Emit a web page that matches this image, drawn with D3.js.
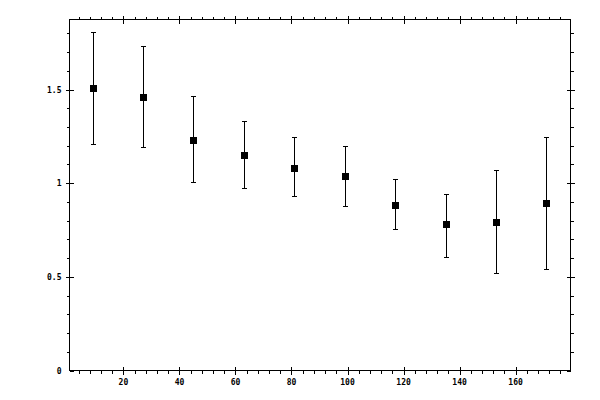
<!DOCTYPE html>
<html>
<head>
<meta charset="utf-8">
<script src="https://cdn.jsdelivr.net/npm/d3@7"></script>
<style>
  body { margin: 0; background: #fff; }
  svg text { font-family: "DejaVu Sans Mono", monospace; font-size: 8px; font-weight: bold; fill: #000; }
</style>
</head>
<body>
<svg id="chart" width="600" height="400"></svg>
<script>
// data
var xs = [9, 27, 45, 63, 81, 99, 117, 135, 153, 171];
var ys = [1.51, 1.46, 1.23, 1.15, 1.08, 1.04, 0.885, 0.78, 0.795, 0.895];
var yLow = [1.21, 1.195, 1.005, 0.975, 0.93, 0.88, 0.757, 0.608, 0.522, 0.54];
var yHigh = [1.805, 1.735, 1.463, 1.33, 1.244, 1.2, 1.02, 0.944, 1.073, 1.249];

var xMajor = [20, 40, 60, 80, 100, 120, 140, 160];
var yMajor = [0, 0.5, 1, 1.5];
var yMajorLabels = ['0', '0.5', '1', '1.5'];

var xMinor = d3.range(4, 180, 4).filter(function(d) { return d % 20 != 0; });
var yMinor = d3.range(1, 19).map(function(d) { return d / 10; }).filter(function(d) { return Math.round(d * 10) % 5 != 0; });

var svg = d3.select('#chart');

// plot frame (note: "top" is taken by window.top, so use frame* names)
var frameL = 69.5, frameR = 570.5, frameT = 19.5, frameB = 370.5;

var x = d3.scaleLinear().domain([0.75, 179.6]).range([frameL, frameR]);
var y = d3.scaleLinear().domain([0, 1.874]).range([frameB, frameT]);

var g = svg.append('g').attr('shape-rendering', 'crispEdges');

// frame
g.append('rect')
    .attr('x', frameL).attr('y', frameT)
    .attr('width', frameR - frameL).attr('height', frameB - frameT)
    .attr('fill', 'none').attr('stroke', '#000').attr('stroke-width', 1);

var noLine = function(sel) { sel.select('.domain').remove(); sel.selectAll('text').remove(); };

// minor ticks, outside only
g.append('g').attr('transform', 'translate(0,' + frameB + ')')
    .call(d3.axisBottom(x).tickValues(xMinor).tickSize(3)).call(noLine);
g.append('g').attr('transform', 'translate(0,' + frameT + ')')
    .call(d3.axisTop(x).tickValues(xMinor).tickSize(3)).call(noLine);
g.append('g').attr('transform', 'translate(' + frameL + ',0)')
    .call(d3.axisLeft(y).tickValues(yMinor).tickSize(3)).call(noLine);
g.append('g').attr('transform', 'translate(' + frameR + ',0)')
    .call(d3.axisRight(y).tickValues(yMinor).tickSize(3)).call(noLine);

// major ticks, crossing the frame
g.append('g').attr('transform', 'translate(0,' + frameB + ')')
    .call(d3.axisBottom(x).tickValues(xMajor).tickSize(4)).call(noLine);
g.append('g').attr('transform', 'translate(0,' + frameB + ')')
    .call(d3.axisBottom(x).tickValues(xMajor).tickSize(-4)).call(noLine);
g.append('g').attr('transform', 'translate(0,' + frameT + ')')
    .call(d3.axisTop(x).tickValues(xMajor).tickSize(4)).call(noLine);
g.append('g').attr('transform', 'translate(0,' + frameT + ')')
    .call(d3.axisTop(x).tickValues(xMajor).tickSize(-4)).call(noLine);
g.append('g').attr('transform', 'translate(' + frameL + ',0)')
    .call(d3.axisLeft(y).tickValues(yMajor.slice(1)).tickSize(4)).call(noLine);
g.append('g').attr('transform', 'translate(' + frameL + ',0)')
    .call(d3.axisLeft(y).tickValues(yMajor).tickSize(-4)).call(noLine);
g.append('g').attr('transform', 'translate(' + frameR + ',0)')
    .call(d3.axisRight(y).tickValues(yMajor.slice(1)).tickSize(4)).call(noLine);
g.append('g').attr('transform', 'translate(' + frameR + ',0)')
    .call(d3.axisRight(y).tickValues(yMajor).tickSize(-4)).call(noLine);

g.selectAll('.tick line').attr('stroke', '#000');

// tick labels
svg.selectAll('.xlab').data(xMajor).enter().append('text')
    .attr('class', 'xlab')
    .attr('x', function(d) { return x(d); })
    .attr('y', frameB + 14)
    .attr('text-anchor', 'middle')
    .text(function(d) { return d; });

svg.selectAll('.ylab').data(yMajor).enter().append('text')
    .attr('class', 'ylab')
    .attr('x', frameL - 8)
    .attr('y', function(d) { return y(d) + 3; })
    .attr('text-anchor', 'end')
    .text(function(d, i) { return yMajorLabels[i]; });

// error bars
var bars = svg.append('g').attr('shape-rendering', 'crispEdges');
var cap = 2.5;

xs.forEach(function(xv, i) {
    var cx = Math.round(x(xv)) + 0.5;
    var yl = Math.round(y(yLow[i])) + 0.5;
    var yh = Math.round(y(yHigh[i])) + 0.5;
    bars.append('line')
        .attr('x1', cx).attr('x2', cx)
        .attr('y1', yl).attr('y2', yh)
        .attr('stroke', '#000');
    bars.append('line')
        .attr('x1', cx - cap).attr('x2', cx + cap)
        .attr('y1', yh).attr('y2', yh)
        .attr('stroke', '#000');
    bars.append('line')
        .attr('x1', cx - cap).attr('x2', cx + cap)
        .attr('y1', yl).attr('y2', yl)
        .attr('stroke', '#000');
});

// markers
svg.append('g').selectAll('rect').data(xs).enter().append('rect')
    .attr('x', function(d) { return Math.round(x(d)) - 3; })
    .attr('y', function(d, i) { return Math.round(y(ys[i])) - 3; })
    .attr('width', 7).attr('height', 7)
    .attr('fill', '#000')
    .attr('shape-rendering', 'crispEdges');
</script>
</body>
</html>
